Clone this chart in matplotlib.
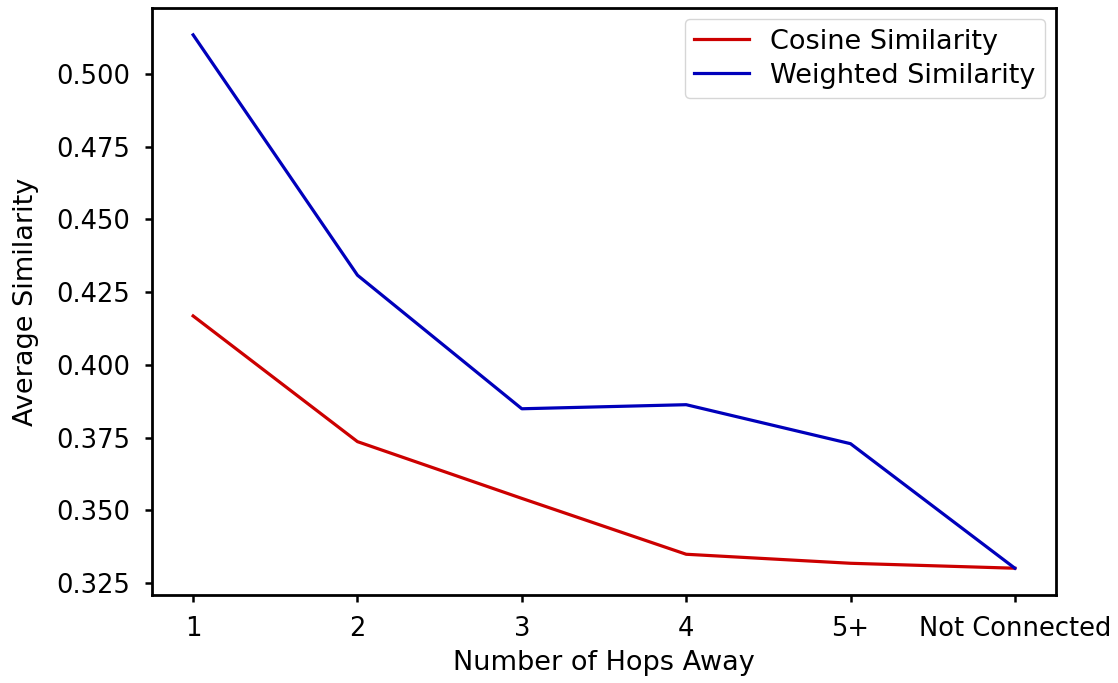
import matplotlib
matplotlib.use("Agg")
import matplotlib.pyplot as plt

hops = ["1", "2", "3", "4", "5+", "Not Connected"]
cosine = [0.4168, 0.3736, 0.3541, 0.3349, 0.3318, 0.3301]
weighted = [0.5134, 0.4308, 0.3849, 0.3863, 0.3729, 0.3301]

plt.rcParams['font.family'] = ['DejaVu Sans']
plt.rcParams['font.size'] = 18

fig, ax = plt.subplots(figsize=(11.18, 6.83), dpi=100)
fig.subplots_adjust(left=0.136, right=0.9445, top=0.988, bottom=0.129)

x = list(range(len(hops)))
ax.plot(x, cosine, color='#cc0000', linewidth=2.3, label='Cosine Similarity')
ax.plot(x, weighted, color='#0000bb', linewidth=2.3, label='Weighted Similarity')

ax.set_xticks(x)
ax.set_xticklabels(hops)
ax.set_yticks([0.325, 0.350, 0.375, 0.400, 0.425, 0.450, 0.475, 0.500])
ax.set_yticklabels(['0.325', '0.350', '0.375', '0.400', '0.425', '0.450', '0.475', '0.500'])
ax.tick_params(length=5, width=1.8, labelsize=18.5)
ax.tick_params(axis='x', pad=10)
ax.tick_params(axis='y', pad=11)
for s in ax.spines.values():
    s.set_linewidth(2)

ax.set_xlabel('Number of Hops Away', fontsize=19.5, labelpad=6)
ax.set_ylabel('Average Similarity', fontsize=19.5, labelpad=12)
ax.legend(loc='upper right', fontsize=19.5, handlelength=2.0,
          borderaxespad=0.4, borderpad=0.35, labelspacing=0.3)

fig.savefig('out.png', dpi=100)
